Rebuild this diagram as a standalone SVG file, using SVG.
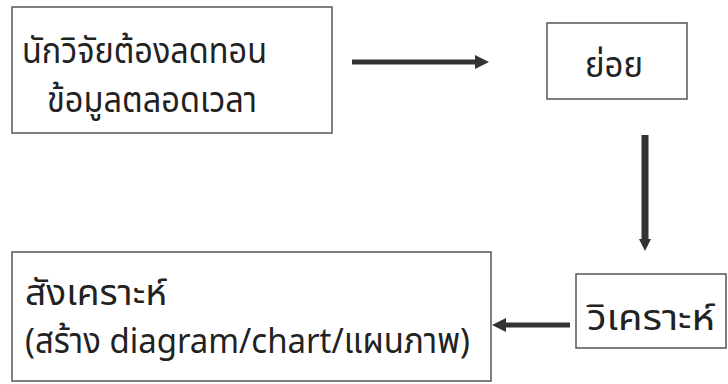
<svg xmlns="http://www.w3.org/2000/svg" width="728" height="384" viewBox="0 0 728 384">
<style>
.box{fill:#fff;stroke:#555;stroke-width:1.5}
.t{font-family:"Noto Sans Thai","Noto Sans","DejaVu Sans",sans-serif;font-size:35px;fill:#222}
.c{stroke:#333;fill:none}
</style>
<defs>
<marker id="ah" viewBox="0 0 10 10" refX="0" refY="5" markerUnits="userSpaceOnUse" markerWidth="15" markerHeight="14" orient="auto"><path d="M0,0 L10,5 L0,10 Z" fill="#333"/></marker>
<marker id="ahv" viewBox="0 0 10 10" refX="0" refY="5" markerUnits="userSpaceOnUse" markerWidth="15" markerHeight="12" orient="auto"><path d="M0,0 L10,5 L0,10 Z" fill="#333"/></marker>
</defs>
<rect width="728" height="384" fill="#fff"/>
<g id="n1"><rect class="box" x="12" y="7" width="320" height="126"/>
<text class="t" x="22" y="63" textLength="245" lengthAdjust="spacingAndGlyphs">นักวิจัยต้องลดทอน</text>
<text class="t" x="47" y="112" textLength="210" lengthAdjust="spacingAndGlyphs">ข้อมูลตลอดเวลา</text></g>
<g id="n2"><rect class="box" x="547" y="23" width="140" height="76"/>
<text class="t" x="585" y="77" textLength="58" lengthAdjust="spacingAndGlyphs">ย่อย</text></g>
<g id="n3"><rect class="box" x="576" y="274" width="150" height="74"/>
<text class="t" x="587" y="330" textLength="128" lengthAdjust="spacingAndGlyphs">วิเคราะห์</text></g>
<g id="n4"><rect class="box" x="12" y="252" width="479" height="129"/>
<text class="t" x="25" y="305" textLength="142" lengthAdjust="spacingAndGlyphs">สังเคราะห์</text>
<text class="t" x="25" y="353" textLength="445" lengthAdjust="spacingAndGlyphs">(สร้าง diagram/chart/แผนภาพ)</text></g>
<g id="connectors">
<line class="c" x1="352" y1="62" x2="475" y2="62" stroke-width="5" marker-end="url(#ah)"/>
<line class="c" x1="645" y1="135" x2="645" y2="239" stroke-width="7" marker-end="url(#ahv)"/>
<line class="c" x1="570" y1="325" x2="506" y2="325" stroke-width="5" marker-end="url(#ah)"/>
</g>
</svg>
